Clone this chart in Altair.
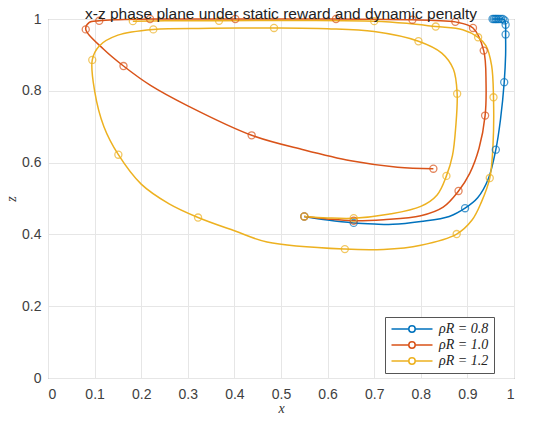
import altair as alt
import pandas as pd

title_text = "x-z phase plane under static reward and dynamic penalty"
series_names = ["ρR = 0.8", "ρR = 1.0", "ρR = 1.2"]
series_colors = ["#0072BD", "#D95319", "#EDB120"]

# rho_R = 0.8
blue_x = [0.550, 0.600, 0.656, 0.700, 0.740, 0.800, 0.861, 0.895, 0.922, 0.945, 0.961, 0.971, 0.979, 0.982, 0.982, 0.982, 0.980, 0.976, 0.972, 0.968, 0.965, 0.962, 0.960, 0.957, 0.954]
blue_z = [0.450, 0.440, 0.432, 0.429, 0.428, 0.436, 0.450, 0.473, 0.502, 0.555, 0.636, 0.720, 0.824, 0.900, 0.957, 0.984, 0.996, 1.000, 1.000, 1.000, 1.000, 1.000, 1.000, 1.000, 1.000]
blue_m = [1, 0, 1, 0, 0, 0, 0, 1, 0, 0, 1, 0, 1, 0, 1, 1, 1, 1, 1, 1, 1, 1, 1, 1, 1]

# rho_R = 1.0
red_x = [0.550, 0.600, 0.656, 0.720, 0.800, 0.848, 0.881, 0.905, 0.925, 0.938, 0.940, 0.935, 0.912, 0.874, 0.830, 0.782, 0.700, 0.618, 0.500, 0.402, 0.300, 0.219, 0.150, 0.110, 0.088, 0.081, 0.120, 0.162, 0.220, 0.300, 0.437, 0.550, 0.650, 0.750, 0.827]
red_z = [0.450, 0.443, 0.438, 0.441, 0.452, 0.476, 0.521, 0.570, 0.640, 0.731, 0.820, 0.912, 0.975, 0.992, 0.996, 0.998, 0.999, 1.000, 1.000, 1.000, 1.000, 1.000, 0.998, 0.995, 0.990, 0.971, 0.915, 0.869, 0.815, 0.758, 0.676, 0.635, 0.605, 0.587, 0.583]
red_m = [1, 0, 1, 0, 0, 0, 1, 0, 0, 1, 0, 1, 1, 1, 0, 1, 0, 1, 0, 1, 0, 1, 0, 1, 0, 1, 0, 1, 0, 0, 1, 0, 0, 0, 1]

# rho_R = 1.2
yel_x = [0.550, 0.600, 0.656, 0.730, 0.800, 0.835, 0.855, 0.868, 0.875, 0.878, 0.870, 0.845, 0.795, 0.700, 0.600, 0.485, 0.350, 0.226, 0.150, 0.110, 0.095, 0.100, 0.120, 0.151, 0.200, 0.260, 0.322, 0.400, 0.470, 0.637, 0.720, 0.800, 0.877, 0.910, 0.930, 0.948, 0.955, 0.956, 0.952, 0.940, 0.923, 0.890, 0.832, 0.770, 0.700, 0.550, 0.367, 0.250, 0.182]
yel_z = [0.450, 0.446, 0.445, 0.456, 0.478, 0.510, 0.563, 0.620, 0.700, 0.792, 0.860, 0.905, 0.938, 0.965, 0.973, 0.975, 0.974, 0.971, 0.955, 0.925, 0.886, 0.800, 0.700, 0.622, 0.540, 0.485, 0.447, 0.410, 0.379, 0.359, 0.358, 0.370, 0.401, 0.440, 0.490, 0.557, 0.650, 0.782, 0.870, 0.925, 0.949, 0.970, 0.979, 0.988, 0.994, 0.996, 0.995, 0.995, 0.994]
yel_m = [1, 0, 1, 0, 0, 0, 1, 0, 0, 1, 0, 0, 1, 0, 0, 1, 0, 1, 0, 0, 1, 0, 0, 1, 0, 0, 1, 0, 0, 1, 0, 0, 1, 0, 0, 1, 0, 1, 0, 0, 1, 0, 1, 0, 1, 0, 1, 0, 1]

tick_vals = [0, 0.1, 0.2, 0.3, 0.4, 0.5, 0.6, 0.7, 0.8, 0.9, 1]

rows = []
for name, xs, zs, ms in zip(series_names, [blue_x, red_x, yel_x], [blue_z, red_z, yel_z], [blue_m, red_m, yel_m]):
    for i, (a, b, c) in enumerate(zip(xs, zs, ms)):
        rows.append({"series": name, "x": a, "z": b, "m": c, "idx": i})
df = pd.DataFrame(rows)

W, H = 466, 359

xscale = alt.Scale(domain=[0, 1], nice=False, zero=False)
yscale = alt.Scale(domain=[0, 1], nice=False, zero=False)
cscale = alt.Scale(domain=series_names, range=series_colors)

xaxis = alt.Axis(title="x", values=tick_vals, labelExpr="format(datum.value, '~g')",
                 titleFont="Liberation Serif", titleFontStyle="italic", titleFontWeight="normal",
                 titleFontSize=14, titleColor="#333", titlePadding=0, labelPadding=9)
yaxis = alt.Axis(title="z", values=tick_vals, labelExpr="format(datum.value, '~g')",
                 titleFont="Liberation Serif", titleFontStyle="italic", titleFontWeight="normal",
                 titleFontSize=14, titleColor="#333", titlePadding=3, labelPadding=7)

legend_path = "M-4.1,0L-0.64,0M0.64,0L4.1,0M0.64,0A0.64,0.64,0,1,1,-0.64,0A0.64,0.64,0,1,1,0.64,0"

lines = alt.Chart(df).mark_line(interpolate="catmull-rom", strokeWidth=1.5).encode(
    x=alt.X("x:Q", scale=xscale, axis=xaxis),
    y=alt.Y("z:Q", scale=yscale, axis=yaxis),
    color=alt.Color("series:N", scale=cscale,
                    legend=alt.Legend(title=None, orient="none", legendX=337, legendY=298,
                                      symbolType=legend_path, symbolSize=100,
                                      symbolStrokeWidth=1.5, symbolFillColor="transparent",
                                      symbolOffset=15,
                                      labelFont="Liberation Serif", labelFontStyle="italic",
                                      labelFontSize=14, labelColor="#222",
                                      strokeColor="#555", fillColor="white", padding=5,
                                      rowPadding=2, labelOffset=20)),
    order="idx:Q",
    detail="series:N",
)

points = alt.Chart(df).transform_filter("datum.m == 1").mark_point(
    shape="circle", filled=False, size=50, strokeWidth=1.3
).encode(
    x=alt.X("x:Q", scale=xscale),
    y=alt.Y("z:Q", scale=yscale),
    color=alt.Color("series:N", scale=cscale, legend=None),
)

title = alt.Chart(pd.DataFrame({"t": [title_text]})).mark_text(
    font="Liberation Sans", fontSize=15.5, color="#222", align="center", baseline="alphabetic"
).encode(text="t:N", x=alt.value(W / 2), y=alt.value(0))

chart = alt.layer(lines, points, title).properties(
    width=W, height=H,
    autosize=alt.AutoSizeParams(type="none"),
    padding={"left": 40, "top": 11, "right": 28, "bottom": 35},
).configure_view(stroke="#777", strokeWidth=1).configure_axis(
    grid=True, gridColor="#e6e6e6", gridWidth=1, ticks=False, domain=False,
    labelFont="Liberation Sans", labelFontSize=14, labelColor="#404040",
)

chart.save("out.html", embed_options={"renderer": "svg", "actions": False})
